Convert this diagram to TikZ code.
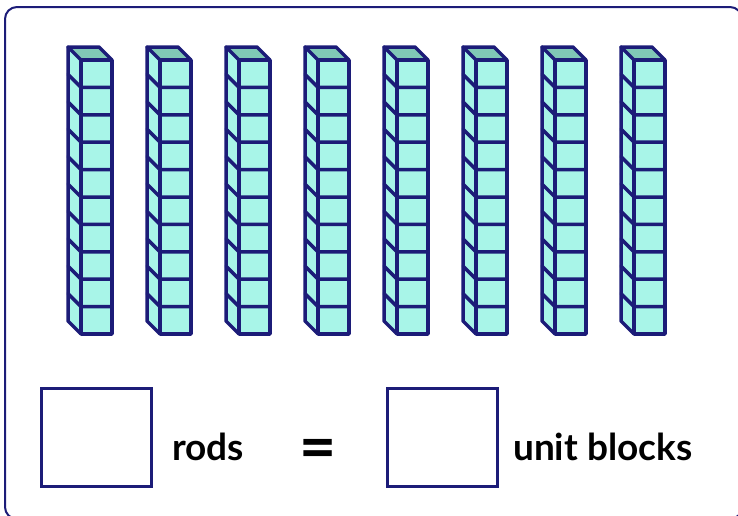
\documentclass[tikz,border=0pt]{standalone}
\usepackage{fontspec}
\setmainfont{Lato}
\definecolor{navy}{HTML}{1C1C78}
\definecolor{aqua}{HTML}{A8F5E8}
\definecolor{aquatop}{HTML}{80C8B6}
\tikzset{
  frame/.style={draw=navy, line width=2pt, rounded corners=12pt},
  rodline/.style={draw=navy, line width=3.5pt, line join=round, line cap=round},
  answerbox/.style={draw=navy, line width=3pt, minimum width=110pt, minimum height=98pt, inner sep=0pt},
  label/.style={font=\bfseries\fontsize{37}{42}\selectfont, inner sep=0pt, anchor=base west},
}
\begin{document}
\begin{tikzpicture}[x=1pt,y=-1pt]
\useasboundingbox (0,0) rectangle (738,515);
\draw[frame] (5,7) rectangle (742,519);
\foreach \i in {0,...,7}{
  \pgfmathsetmacro{\x}{81+79*\i}
  % faces
  \fill[aqua] (\x,60) rectangle ++(31,274);
  \fill[aqua] (\x,60) -- ++(-13,-13) -- ++(0,274) -- ++(13,13) -- cycle;
  \fill[aquatop] (\x,60) -- ++(-13,-13) -- ++(31,0) -- ++(13,13) -- cycle;
  % cell lines
  \foreach \k in {1,...,9}{
    \draw[rodline] (\x+31,60+27.4*\k) -- (\x,60+27.4*\k) -- ++(-13,-13);
  }
  % outline
  \draw[rodline] (\x,60) rectangle ++(31,274);
  \draw[rodline] (\x,60) -- ++(-13,-13) -- ++(31,0) -- ++(13,13);
  \draw[rodline] (\x-13,47) -- ++(0,274) -- ++(13,13);
}
\node[answerbox] (box1) at (96,437) {};
\node[answerbox] (box2) at (442,437) {};
\node[label] (rods) at (172,460) {rods};
\node[font=\bfseries\fontsize{64}{64}\selectfont, inner sep=0pt, anchor=base] (eq) at (318,469) {=};
\node[label] (units) at (513,460) {unit blocks};
\end{tikzpicture}
\end{document}
